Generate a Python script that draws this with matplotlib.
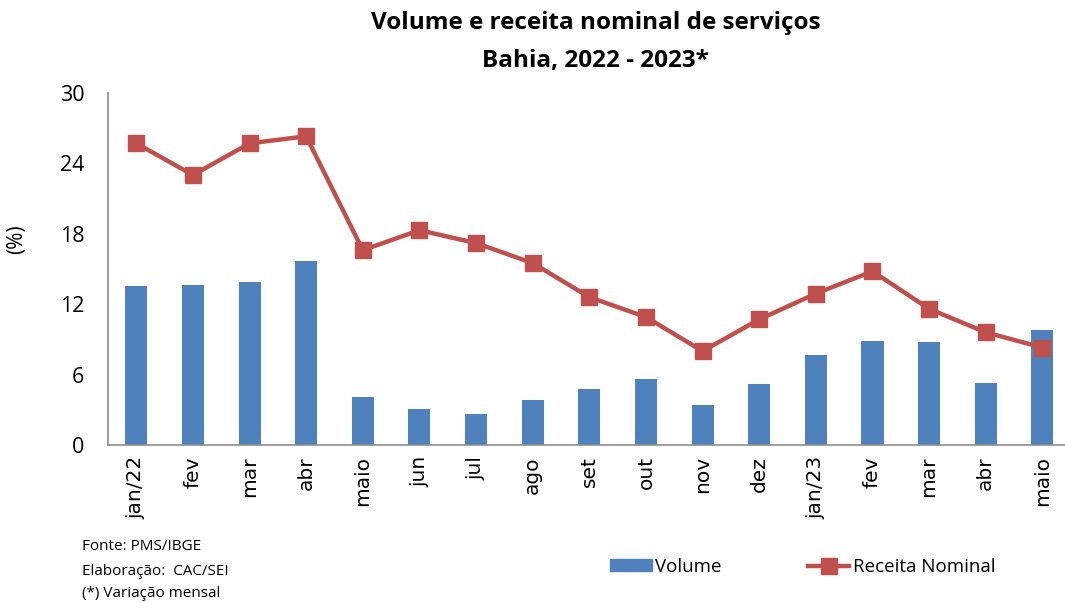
import matplotlib
matplotlib.use('Agg')
import matplotlib.pyplot as plt
from matplotlib.lines import Line2D
from matplotlib.patches import Patch
import numpy as np

meses = ["jan/22", "fev", "mar", "abr", "maio", "jun", "jul", "ago", "set",
         "out", "nov", "dez", "jan/23", "fev", "mar", "abr", "maio"]
volume = [13.55, 13.6, 13.9, 15.7, 4.1, 3.1, 2.6, 3.8, 4.8, 5.6, 3.4, 5.2,
          7.7, 8.9, 8.8, 5.3, 9.8]
receita = [25.7, 23.0, 25.7, 26.3, 16.6, 18.3, 17.2, 15.5, 12.6, 10.9, 8.0,
           10.7, 12.9, 14.8, 11.6, 9.6, 8.3]

azul = "#4F81BD"
vermelho = "#C0504D"
fonte = "Open Sans"

fig = plt.figure(figsize=(10.65, 6.03), dpi=100)
ax = fig.add_axes([0.1014, 0.262, 0.8986, 0.584])

x = np.arange(len(meses))
ax.bar(x, volume, width=0.39, color=azul, zorder=2)
ax.plot(x, receita, color=vermelho, lw=3.2, marker="s", markersize=11, zorder=3)

ax.set_xlim(-0.5, 16.4)
ax.set_ylim(0, 30)
ax.set_yticks([0, 6, 12, 18, 24, 30])
ax.set_yticklabels(["0", "6", "12", "18", "24", "30"], fontsize=15.5, family=fonte)
ax.set_xticks(x)
ax.set_xticklabels(meses, rotation=90, fontsize=14.5, family="DejaVu Sans")
ax.tick_params(axis="x", length=0, pad=8)
ax.tick_params(axis="y", length=0, pad=17)

for s in ["top", "right"]:
    ax.spines[s].set_visible(False)
for s in ["left", "bottom"]:
    ax.spines[s].set_color("#8c8c8c")
    ax.spines[s].set_linewidth(1.2)

ax.set_ylabel("(%)", fontsize=15, family=fonte, labelpad=19)
ax.yaxis.set_label_coords(-0.085, 0.585)

fig.text(0.559, 0.962, "Volume e receita nominal de serviços", ha="center",
         va="center", fontsize=17.5, fontweight="bold", family=fonte)
fig.text(0.559, 0.899, "Bahia, 2022 - 2023*", ha="center", va="center",
         fontsize=17.5, fontweight="bold", family=fonte)

for yy, txt in [(0.093, "Fonte: PMS/IBGE"), (0.053, "Elaboração:  CAC/SEI"),
                (0.015, "(*) Variação mensal")]:
    fig.text(0.077, yy, txt, fontsize=11, family=fonte, va="center")

handles = [Patch(color=azul), Line2D([], [], color=vermelho, lw=3.2, marker="s", markersize=11)]
leg = fig.legend(handles, ["Volume", "Receita Nominal"], loc="center",
                 bbox_to_anchor=(0.754, 0.06), ncol=2, frameon=False,
                 prop={"family": fonte, "size": 13.5}, handlelength=2.2,
                 handleheight=0.6, handletextpad=0.2, columnspacing=4.6)

fig.savefig("out.png", dpi=100)
